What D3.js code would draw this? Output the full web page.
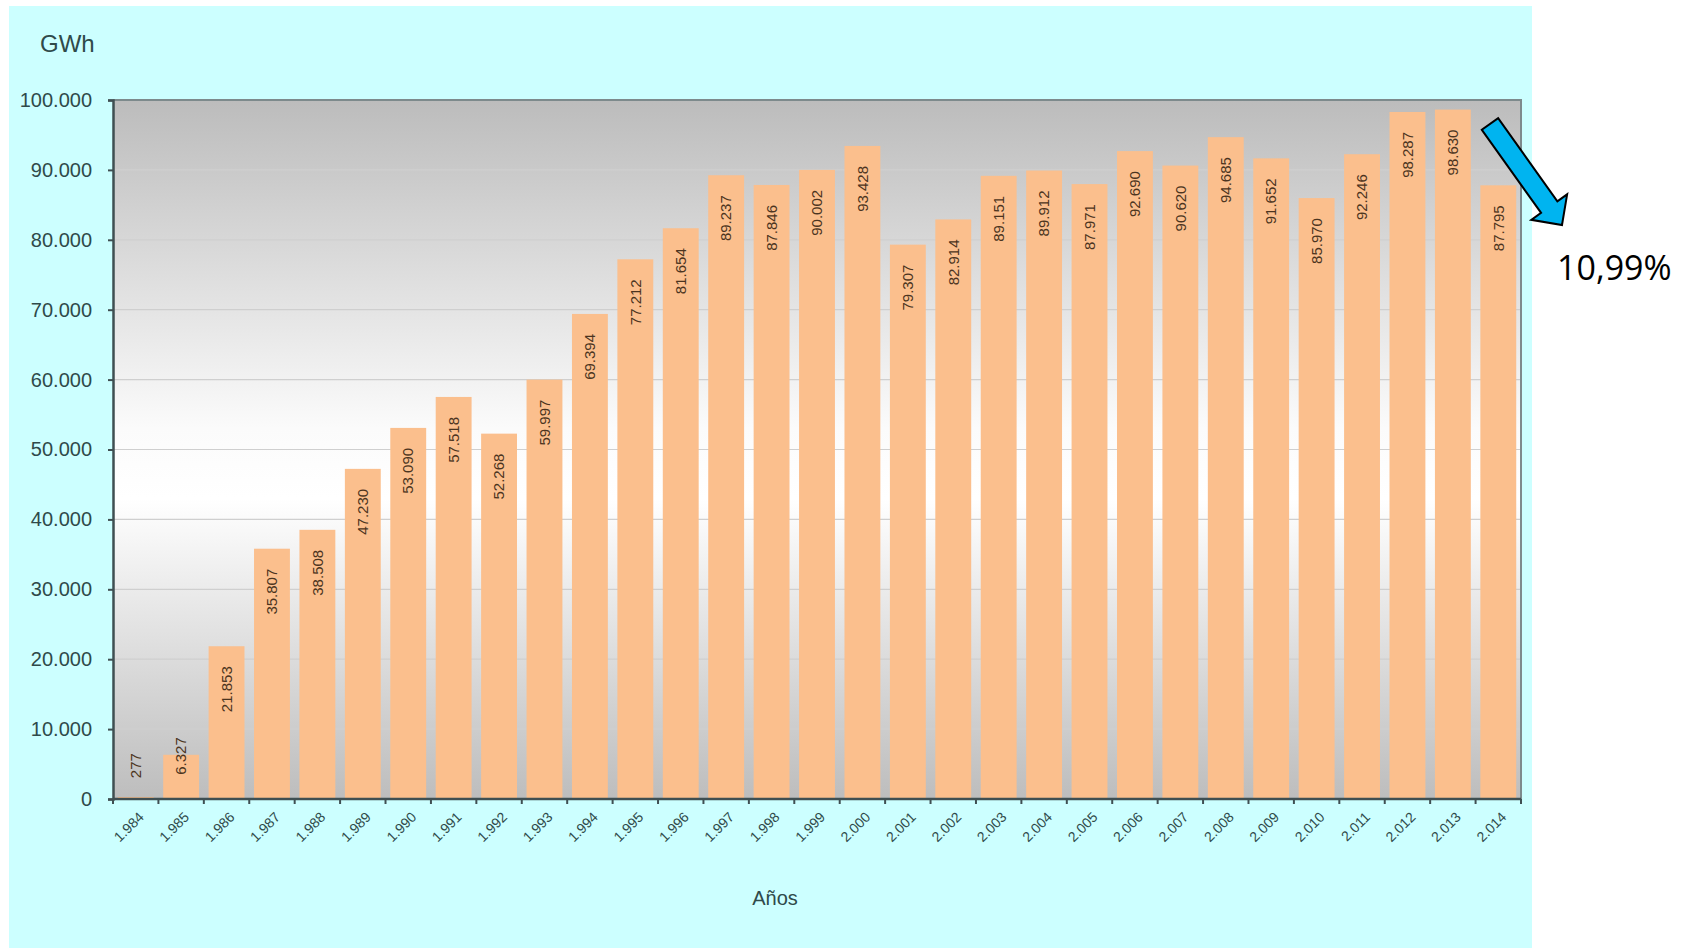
<!DOCTYPE html>
<html>
<head>
<meta charset="utf-8">
<script src="https://cdn.jsdelivr.net/npm/d3@7"></script>
<style>
  body { margin: 0; background: #ffffff; }
  svg { display: block; }
</style>
</head>
<body>
<svg id="grafico" width="1689" height="948"></svg>
<script>
// datos
const anios = [1984, 1985, 1986, 1987, 1988, 1989, 1990, 1991, 1992, 1993, 1994, 1995, 1996, 1997, 1998, 1999,
               2000, 2001, 2002, 2003, 2004, 2005, 2006, 2007, 2008, 2009, 2010, 2011, 2012, 2013, 2014];
const gwh = [277, 6327, 21853, 35807, 38508, 47230, 53090, 57518, 52268, 59997, 69394, 77212, 81654, 89237, 87846, 90002,
             93428, 79307, 82914, 89151, 89912, 87971, 92690, 90620, 94685, 91652, 85970, 92246, 98287, 98630, 87795];
const yTicks = [0, 10000, 20000, 30000, 40000, 50000, 60000, 70000, 80000, 90000, 100000];
const tituloY = 'GWh';
const tituloX = 'Años';
const variacion = '10,99%';

const es = d3.formatLocale({decimal: ',', thousands: '.', grouping: [3], currency: ['', ' €']});
const fmt = es.format(',d');

const svg = d3.select('#grafico');
const colorTexto = '#2f4a4a';

// fondo celeste
svg.append('rect').attr('x', 9).attr('y', 6).attr('width', 1523).attr('height', 942).attr('fill', '#ccffff');

const x0 = 113, x1 = 1521, y0 = 100, y1 = 799;

let x = d3.scaleBand().domain(anios).range([x0, x1]).paddingInner(0.21).paddingOuter(0.105);
let y = d3.scaleLinear().domain([0, 100000]).range([y1, y0]);

// degradado del area de trazado
const defs = svg.append('defs');
const grad = defs.append('linearGradient').attr('id', 'fondo').attr('x1', 0).attr('y1', 0).attr('x2', 0).attr('y2', 1);
grad.append('stop').attr('offset', '0%').attr('stop-color', '#bcbcbc');
grad.append('stop').attr('offset', '47%').attr('stop-color', '#fbfbfb');
grad.append('stop').attr('offset', '57%').attr('stop-color', '#ffffff');
grad.append('stop').attr('offset', '100%').attr('stop-color', '#bdbdbd');

svg.append('rect').attr('x', x0).attr('y', y0).attr('width', x1 - x0).attr('height', y1 - y0)
    .attr('fill', 'url(#fondo)');

// lineas de cuadricula
svg.append('g').selectAll('line')
    .data(yTicks.filter(d => d > 0 && d < 100000)).enter()
    .append('line')
    .attr('x1', x0).attr('x2', x1)
    .attr('y1', d => y(d)).attr('y2', d => y(d))
    .attr('stroke', '#cfcfcf').attr('stroke-width', 1.2);

// barras
svg.append('g').selectAll('rect')
    .data(anios).enter()
    .append('rect')
    .attr('x', d => x(d))
    .attr('y', (d, i) => y(gwh[i]))
    .attr('width', x.bandwidth())
    .attr('height', (d, i) => y(0) - y(gwh[i]))
    .attr('fill', '#fbbf8d');

// etiquetas de valor (leidas de abajo hacia arriba)
const fs = 15;
svg.append('g').selectAll('text')
    .data(anios).enter()
    .append('text')
    .attr('transform', (d, i) => {
        const txt = fmt(gwh[i]);
        const largo = txt.length * fs * 0.53;
        const yy = Math.min(y(gwh[i]) + 20, 777 - largo);
        return 'translate(' + (x(d) + x.bandwidth() / 2) + ',' + yy + ') rotate(-90)';
    })
    .attr('dy', '0.35em')
    .style('text-anchor', 'end')
    .style('font-family', 'Liberation Sans, Arial, sans-serif')
    .style('font-size', fs + 'px')
    .style('fill', '#4b3420')
    .text((d, i) => fmt(gwh[i]));

// borde superior y derecho
svg.append('path')
    .attr('d', 'M' + x0 + ',' + y0 + 'H' + x1 + 'V' + y1)
    .attr('fill', 'none').attr('stroke', '#7d8a8c').attr('stroke-width', 2);

// eje y
let ejeY = d3.axisLeft(y).tickValues(yTicks).tickFormat(fmt).tickSize(5).tickPadding(16);
svg.append('g')
    .attr('transform', 'translate(' + x0 + ',0)')
    .call(ejeY)
    .call(g => g.select('.domain').attr('stroke', '#3f4f52').attr('stroke-width', 2.5))
    .call(g => g.selectAll('.tick line').attr('stroke', '#3f4f52').attr('stroke-width', 2))
    .selectAll('text')
    .style('font-family', 'Liberation Sans, Arial, sans-serif')
    .style('font-size', '20px')
    .style('fill', colorTexto);

// eje x: marcas entre categorias
const gx = svg.append('g');
gx.append('line').attr('x1', x0).attr('x2', x1).attr('y1', y1).attr('y2', y1)
    .attr('stroke', '#3f4f52').attr('stroke-width', 2.5);
gx.selectAll('line.marca')
    .data(d3.range(anios.length + 1)).enter()
    .append('line').attr('class', 'marca')
    .attr('x1', i => x0 + i * x.step()).attr('x2', i => x0 + i * x.step())
    .attr('y1', y1).attr('y2', y1 + 5)
    .attr('stroke', '#3f4f52').attr('stroke-width', 2);

gx.selectAll('text')
    .data(anios).enter()
    .append('text')
    .attr('transform', d => 'translate(' + (x(d) + x.bandwidth() / 2 + 2) + ',' + (y1 + 12) + ') rotate(-45)')
    .attr('dy', '0.7em')
    .style('text-anchor', 'end')
    .style('font-family', 'Liberation Sans, Arial, sans-serif')
    .style('font-size', '14px')
    .style('fill', colorTexto)
    .text(d => fmt(d));

// titulos
svg.append('text').attr('x', 40).attr('y', 52)
    .style('font-family', 'Liberation Sans, Arial, sans-serif')
    .style('font-size', '24px')
    .style('fill', colorTexto)
    .text(tituloY);

svg.append('text').attr('x', 775).attr('y', 905)
    .style('text-anchor', 'middle')
    .style('font-family', 'Liberation Sans, Arial, sans-serif')
    .style('font-size', '20px')
    .style('fill', colorTexto)
    .text(tituloX);

// flecha de variacion
const p0 = [1490, 124], p1 = [1562, 225];
const dx = p1[0] - p0[0], dyv = p1[1] - p0[1];
const L = Math.hypot(dx, dyv);
const u = [dx / L, dyv / L], n = [-u[1], u[0]];
const sw = 10, hw = 22, hl = 22;
const base = [p1[0] - u[0] * hl, p1[1] - u[1] * hl];
const pt = (c, a, b) => [c[0] + n[0] * a + u[0] * b, c[1] + n[1] * a + u[1] * b];
const flecha = [pt(p0, sw, 0), pt(base, sw, 0), pt(base, hw, 0), p1, pt(base, -hw, 0), pt(base, -sw, 0), pt(p0, -sw, 0)];
svg.append('path')
    .attr('d', d3.line()(flecha) + 'Z')
    .attr('fill', '#00b4f0')
    .attr('stroke', '#000000')
    .attr('stroke-width', 2)
    .attr('stroke-linejoin', 'miter');

svg.append('text').attr('x', 1557).attr('y', 280)
    .style('font-family', 'Open Sans, sans-serif')
    .style('font-size', '34px')
    .style('fill', '#000000')
    .text(variacion);
</script>
</body>
</html>
